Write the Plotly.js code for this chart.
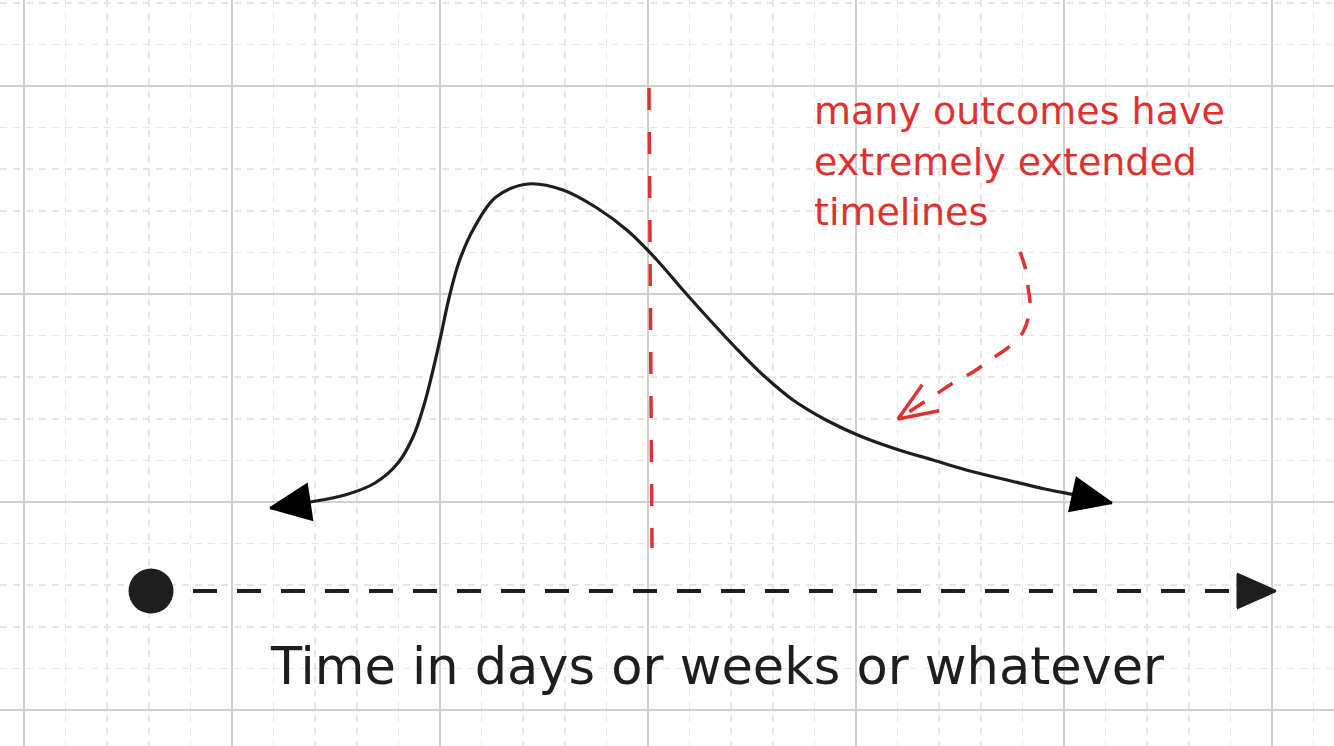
<!DOCTYPE html>
<html><head><meta charset="utf-8">
<script src="https://cdn.plot.ly/plotly-3.0.1.min.js"></script>
<style>html,body{margin:0;padding:0;background:#fff;overflow:hidden}#chart{width:1334px;height:746px}</style>
</head><body><div id="chart"></div>
<script>
// Sketch data (canvas units, y grows downward)
const curveX = [270, 310, 345, 375, 398, 413, 424, 433, 441, 449, 459, 474, 496, 528, 563, 597, 628, 656, 682, 708, 735, 763, 793, 826, 860, 896, 933, 970, 1007, 1045, 1080, 1112];
const curveY = [508, 502, 495, 483, 463, 437, 405, 370, 335, 298, 262, 228, 197, 184, 190, 208, 231, 259, 289, 318, 347, 375, 400, 420, 436, 449, 460, 471, 480, 489, 496, 503];
const medianX = [649, 652];
const medianY = [88, 548];
const noteArrowX = [1020, 1025, 1028, 1030, 1023, 1010, 990, 973, 953, 935, 898];
const noteArrowY = [252, 267, 287, 308, 332, 346, 360, 372, 383, 395, 419];
const timelineX = [151, 1276];
const timelineY = [591, 591];
const axisLabel = "Time in days or weeks or whatever";
const noteLines = ["many outcomes have", "extremely extended", "timelines"];

const INK = '#1e1e1e', RED = '#e03131';

function unitBack(xs, ys, tipIdx, refIdx) {
  const dx = xs[refIdx] - xs[tipIdx], dy = ys[refIdx] - ys[tipIdx];
  const L = Math.hypot(dx, dy);
  return [dx / L, dy / L];
}
function filledHead(tx, ty, ux, uy, len, half) {
  const bx = tx + ux * len, by = ty + uy * len;
  const nx = -uy, ny = ux;
  return {x: [tx, bx + nx * half, bx - nx * half, tx], y: [ty, by + ny * half, by - ny * half, ty]};
}
function openHead(tx, ty, ux, uy, len, ang) {
  const r = a => [ux * Math.cos(a) - uy * Math.sin(a), ux * Math.sin(a) + uy * Math.cos(a)];
  const a1 = r(ang), a2 = r(-ang);
  return {x: [tx + a1[0] * len, tx, tx + a2[0] * len], y: [ty + a1[1] * len, ty, ty + a2[1] * len]};
}

const n = curveX.length;
const uL = unitBack(curveX, curveY, 0, 1);
const uR = unitBack(curveX, curveY, n - 1, n - 2);
const headL = filledHead(curveX[0], curveY[0], uL[0], uL[1], 40, 18);
const headR = filledHead(curveX[n - 1], curveY[n - 1], uR[0], uR[1], 40, 17);
const m = noteArrowX.length;
const uN = unitBack(noteArrowX, noteArrowY, m - 1, m - 2);
const headN = openHead(noteArrowX[m - 1], noteArrowY[m - 1], uN[0], uN[1], 42, 0.38);
const tlHead = filledHead(timelineX[1], timelineY[1], -1, 0, 38, 17);

const traces = [
  {x: medianX, y: medianY, mode: 'lines', line: {color: RED, width: 3.5, dash: '22px,22px'}, hoverinfo: 'skip'},
  {x: curveX, y: curveY, mode: 'lines', line: {color: INK, width: 3.2, shape: 'spline', smoothing: 1, simplify: false}, hoverinfo: 'skip'},
  {x: headL.x, y: headL.y, mode: 'lines', fill: 'toself', fillcolor: '#000', line: {color: '#000', width: 2}, hoverinfo: 'skip'},
  {x: headR.x, y: headR.y, mode: 'lines', fill: 'toself', fillcolor: '#000', line: {color: '#000', width: 2}, hoverinfo: 'skip'},
  {x: noteArrowX, y: noteArrowY, mode: 'lines', line: {color: RED, width: 3.5, dash: '18px,16px', shape: 'spline', simplify: false}, hoverinfo: 'skip'},
  {x: headN.x, y: headN.y, mode: 'lines', line: {color: RED, width: 3.5}, hoverinfo: 'skip'},
  {x: [timelineX[0] + 42, timelineX[1] - 40], y: timelineY, mode: 'lines', line: {color: INK, width: 4, dash: '24px,20px'}, hoverinfo: 'skip'},
  {x: [timelineX[1] - 38, timelineX[1] - 38], y: [timelineY[0] - 17, timelineY[0] + 17], mode: 'lines', line: {color: INK, width: 3}, hoverinfo: 'skip'},
  {x: tlHead.x, y: tlHead.y, mode: 'lines', fill: 'toself', fillcolor: INK, line: {color: INK, width: 2}, hoverinfo: 'skip'},
  {x: [timelineX[0]], y: [timelineY[0]], mode: 'markers', marker: {color: INK, size: 45}, hoverinfo: 'skip'}
];

const layout = {
  width: 1334, height: 746,
  margin: {l: 0, r: 0, t: 0, b: 0},
  paper_bgcolor: '#ffffff', plot_bgcolor: '#ffffff',
  showlegend: false,
  xaxis: {range: [0, 1334], tick0: 24, dtick: 208, showgrid: true, gridcolor: '#cfcfcf', gridwidth: 1.5,
    zeroline: false, showticklabels: false, ticks: '', showline: false, fixedrange: true,
    minor: {tick0: 24, dtick: 41.6, showgrid: true, gridcolor: '#e6e6e6', gridwidth: 1.5, griddash: '7px,6px'}},
  yaxis: {range: [746, 0], tick0: 86, dtick: 208, showgrid: true, gridcolor: '#cfcfcf', gridwidth: 1.5,
    zeroline: false, showticklabels: false, ticks: '', showline: false, fixedrange: true,
    minor: {tick0: 86, dtick: 41.6, showgrid: true, gridcolor: '#e6e6e6', gridwidth: 1.5, griddash: '7px,6px'}},
  annotations: [
    {x: 268, y: 666, xref: 'x', yref: 'y', xanchor: 'left', yanchor: 'middle', showarrow: false,
     text: axisLabel, font: {family: 'DejaVu Sans', size: 51, color: INK}}
  ].concat(noteLines.map((t, i) => ({
     x: 812, y: 111 + i * 50.5, xref: 'x', yref: 'y', xanchor: 'left', yanchor: 'middle', showarrow: false,
     text: t, font: {family: 'DejaVu Sans', size: 38, color: RED}})))
};

Plotly.newPlot('chart', traces, layout, {staticPlot: true, displayModeBar: false});
</script>
</body></html>
